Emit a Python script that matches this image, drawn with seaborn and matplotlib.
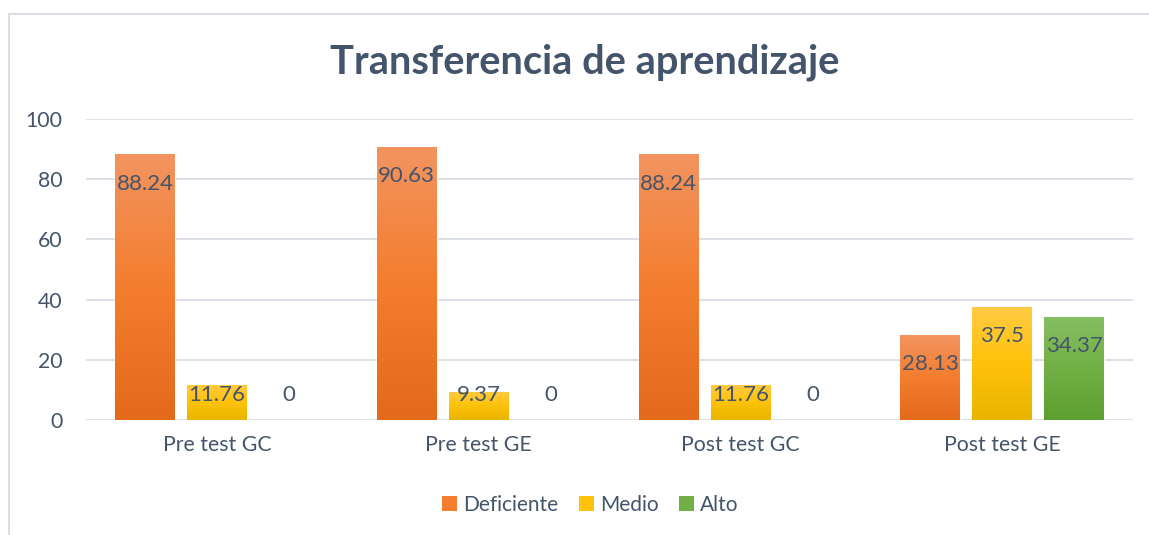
import numpy as np
import pandas as pd
import matplotlib.pyplot as plt
import matplotlib.colors as mcolors
from matplotlib.patches import Patch
from matplotlib.lines import Line2D
import seaborn as sns

# Values
categories = ['Pre test GC', 'Pre test GE', 'Post test GC', 'Post test GE']
levels = ['Deficiente', 'Medio', 'Alto']
deficiente = [88.24, 90.63, 88.24, 28.13]
medio = [11.76, 9.37, 11.76, 37.5]
alto = [0, 0, 0, 34.37]

df = pd.DataFrame({
    'Prueba': categories * 3,
    'Nivel': [levels[0]] * 4 + [levels[1]] * 4 + [levels[2]] * 4,
    'Valor': deficiente + medio + alto,
})

text_col = '#44546A'
grid_col = '#D9DEE6'
base_cols = {'Deficiente': '#ED7D31', 'Medio': '#FFC000', 'Alto': '#70AD47'}
# top, middle, bottom colours of the vertical gradient
grads = {
    'Deficiente': ['#F29460', '#F47D2E', '#E4691B'],
    'Medio': ['#FFCA45', '#FFC20A', '#E9B500'],
    'Alto': ['#86BE63', '#72B045', '#5E9F31'],
}

sns.set_theme(style='white')
plt.rcParams['font.family'] = ['Lato', 'DejaVu Sans']

fig = plt.figure(figsize=(11.49, 5.35), dpi=100)
ax = fig.add_axes([86 / 1149, 1 - 420 / 535, (1133 - 86) / 1149, 301 / 535])

sns.barplot(data=df, x='Prueba', y='Valor', hue='Nivel', hue_order=levels,
            order=categories, palette=base_cols, width=0.825, gap=0.17,
            ax=ax, legend=False, zorder=3)

ax.set_ylim(0, 100)
ax.set_yticks(range(0, 101, 20))
ax.set_xlim(-0.5, 3.5)
ax.grid(axis='y', color=grid_col, linewidth=1.3, zorder=0)
for s in ax.spines.values():
    s.set_visible(False)
ax.set_xlabel('')
ax.set_ylabel('')
ax.tick_params(axis='both', length=0, labelsize=15.3, labelcolor=text_col)
ax.tick_params(axis='x', pad=11)
ax.tick_params(axis='y', pad=17)

# gradient fill + labels
for container, lvl in zip(ax.containers, levels):
    cmap = mcolors.LinearSegmentedColormap.from_list(lvl, grads[lvl][::-1])
    for bar, val in zip(container, container.datavalues):
        x0, w, h = bar.get_x(), bar.get_width(), bar.get_height()
        if h > 0:
            grad = np.linspace(0, 1, 256).reshape(-1, 1)
            im = ax.imshow(grad, cmap=cmap, origin='lower', aspect='auto',
                           extent=[x0, x0 + w, 0, h], zorder=4)
            im.set_clip_path(bar)
        lab = f'{val:g}'
        xc = x0 + w / 2
        if val > 15:
            ax.annotate(lab, (xc, val), xytext=(0, -21), textcoords='offset points',
                        ha='center', va='center', fontsize=16, color=text_col, zorder=5)
        else:
            ax.text(xc, 8.3, lab, ha='center', va='center', fontsize=16,
                    color=text_col, zorder=5)
ax.set_xlim(-0.5, 3.5)
ax.set_ylim(0, 100)

fig.suptitle('Transferencia de aprendizaje', x=0.509, y=1 - 62 / 535, va='center',
             fontsize=28.7, fontweight='bold', color=text_col)

handles = [Patch(facecolor=grads[l][1], edgecolor='none') for l in levels]
fig.legend(handles, levels, loc='center', bbox_to_anchor=(0.514, 1 - 505 / 535),
           ncol=3, frameon=False, fontsize=15, labelcolor=text_col,
           handlelength=0.7, handleheight=0.7, handletextpad=0.3, columnspacing=1.0)

# chart frame (top and left edge visible)
fig.add_artist(Line2D([9 / 1149, 1], [1 - 14 / 535] * 2, color=grid_col, lw=1.5))
fig.add_artist(Line2D([9 / 1149] * 2, [0, 1 - 14 / 535], color=grid_col, lw=1.5))

fig.savefig('out.png', dpi=100)
